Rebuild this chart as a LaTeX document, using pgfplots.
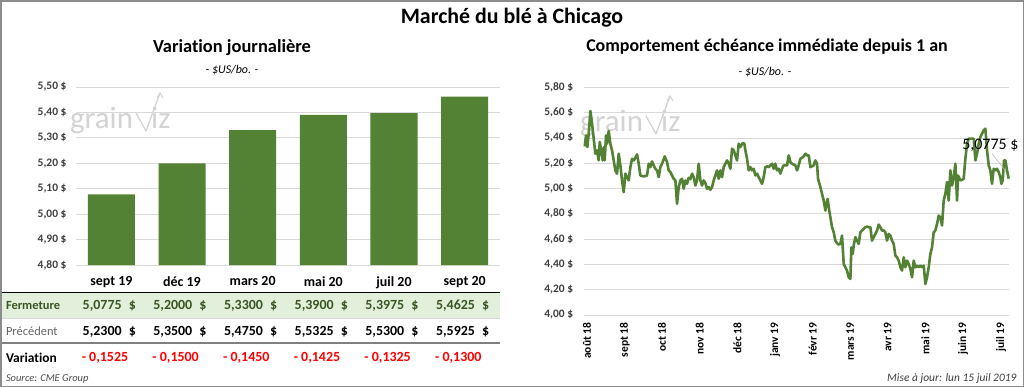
\documentclass[border=0pt]{standalone}
\usepackage{fontspec}
\setmainfont{Carlito}[Ligatures={NoCommon}]
\usepackage{pgfplots}
\pgfplotsset{compat=1.18}
\definecolor{wgreen}{HTML}{548235}
\definecolor{gridc}{HTML}{D9D9D9}
\definecolor{band}{HTML}{E2EFDA}
\definecolor{dkgreen}{HTML}{375623}
\definecolor{wm}{HTML}{D3D3D3}
\definecolor{lbl}{HTML}{404040}
\newcommand{\fs}[1]{\fontsize{#1}{#1}\selectfont}
\newcommand{\watermark}[2]{%
  \begin{scope}[shift={(#1bp,#2bp)}]
    \node[text=wm, font=\fs{31}, anchor=base west, inner sep=0] at (0bp,-128bp) {grain};
    \draw[wm, line width=1.3bp, line join=round] (66bp,-113bp) -- (76bp,-131bp) -- (90bp,-93bp);
    \draw[wm, line width=1bp] (87bp,-98bp) -- (90bp,-93bp) -- (93bp,-98bp);
    \node[text=wm, font=\fs{31}, anchor=base west, inner sep=0] at (81bp,-128bp) {iz};
  \end{scope}}

\begin{document}
\begin{tikzpicture}
\path[use as bounding box] (0,0) rectangle (1024bp,-387bp);
\fill[white] (0,0) rectangle (1024bp,-387bp);

% titles
\node[font=\fs{22}\bfseries] at (512bp,-18bp) {Marché du blé à Chicago};
\node[font=\fs{18.5}\bfseries] at (232bp,-48bp) {Variation journalière};
\node[font=\fs{12}\itshape] at (232bp,-70bp) {- \$US/bo. -};
\node[font=\fs{18}\bfseries] at (767bp,-47bp) {Comportement échéance immédiate depuis 1 an};
\node[font=\fs{12}\itshape] at (765bp,-72bp) {- \$US/bo. -};

% table background and rules
\fill[band] (1.5bp,-292.7bp) rectangle (500bp,-318.3bp);
\draw[black, line width=1.6bp] (1.5bp,-292.3bp) -- (500bp,-292.3bp);
\draw[gridc, line width=0.8bp] (1.5bp,-318.3bp) -- (500bp,-318.3bp);
\draw[black!50, line width=2.2bp] (1.5bp,-342.7bp) -- (500bp,-342.7bp);

\watermark{70}{0}
\watermark{580}{-3}

% left chart
\begin{axis}[
  at={(76bp,-265bp)}, anchor=south west,
  scale only axis, width=424bp, height=178bp,
  xmin=-0.5, xmax=5.5, ymin=4.8, ymax=5.5,
  xtick={0,1,2,3,4,5},
  xticklabels={sept 19, déc 19, mars 20, mai 20, juil 20, sept 20},
  ytick={4.8,4.9,5.0,5.1,5.2,5.3,5.4,5.5},
  yticklabels={{4,80 \$},{4,90 \$},{5,00 \$},{5,10 \$},{5,20 \$},{5,30 \$},{5,40 \$},{5,50 \$}},
  ymajorgrids, grid style={gridc, line width=0.8bp},
  axis line style={draw=none}, major tick length=0pt,
  yticklabel style={font=\fs{11.5}\bfseries, text=lbl, xshift=-6bp},
  xticklabel style={font=\fs{14}\bfseries, text=black, yshift=-8bp},
]
\addplot[ybar, bar width=47bp, fill=wgreen, draw=none]
  coordinates {(0,5.0775) (1,5.2000) (2,5.3300) (3,5.3900) (4,5.3975) (5,5.4625)};
\end{axis}

% table text
\node[anchor=west, font=\fs{12.5}\bfseries, text=dkgreen] at (2.5bp,-306bp) {Fermeture};
\node[anchor=west, font=\fs{12.5}, text=black!60] at (2.5bp,-331.5bp) {Précédent};
\node[anchor=west, font=\fs{13.5}\bfseries] at (2.5bp,-357.5bp) {Variation};
\foreach \c/\f/\p/\v in {111.33/{5,0775}/{5,2300}/{- 0,1525},
                         182.00/{5,2000}/{5,3500}/{- 0,1500},
                         252.67/{5,3300}/{5,4750}/{- 0,1450},
                         323.33/{5,3900}/{5,5325}/{- 0,1425},
                         394.00/{5,3975}/{5,5300}/{- 0,1325},
                         464.67/{5,4625}/{5,5925}/{- 0,1300}} {
  \node[anchor=east, font=\fs{14}\bfseries, text=dkgreen, inner sep=0] at ([xshift=10.5bp]\c bp,-306bp) {\f};
  \node[anchor=east, font=\fs{14}\bfseries, text=dkgreen, inner sep=0] at ([xshift=24.7bp]\c bp,-306bp) {\$};
  \node[anchor=east, font=\fs{14}\bfseries, inner sep=0] at ([xshift=10.5bp]\c bp,-331.5bp) {\p};
  \node[anchor=east, font=\fs{14}\bfseries, inner sep=0] at ([xshift=24.7bp]\c bp,-331.5bp) {\$};
  \node[anchor=east, font=\fs{14}\bfseries, text=red, inner sep=0] at ([xshift=17bp]\c bp,-357.5bp) {\v};
}

% right chart
\begin{axis}[
  at={(583.7bp,-315bp)}, anchor=south west,
  scale only axis, width=425bp, height=227.7bp,
  xmin=215, xmax=1490, ymin=4.0, ymax=5.8,
  xtick={225,338,450,563,676,789,902,1014,1127,1240,1353,1467},
  xticklabels={août 18, sept 18, oct 18, nov 18, déc 18, janv 19, févr 19, mars 19, avr 19, mai 19, juin 19, juil 19},
  ytick={4.0,4.2,4.4,4.6,4.8,5.0,5.2,5.4,5.6,5.8},
  yticklabels={{4,00 \$},{4,20 \$},{4,40 \$},{4,60 \$},{4,80 \$},{5,00 \$},{5,20 \$},{5,40 \$},{5,60 \$},{5,80 \$}},
  ymajorgrids, grid style={gridc, line width=0.8bp},
  axis line style={draw=none}, major tick length=0pt,
  yticklabel style={font=\fs{11.5}\bfseries, text=lbl, xshift=-7bp},
  xticklabel style={font=\fs{11.5}\bfseries, text=black, rotate=90, anchor=east, xshift=-4bp},
  clip=false,
]
\addplot[wgreen, line width=2.6bp, line join=round] table {
x y
218 5.333
222 5.420
226 5.328
230 5.434
235 5.613
240 5.513
245 5.394
250 5.275
255 5.302
260 5.222
263 5.368
268 5.302
272 5.222
276 5.328
278 5.222
282 5.420
285 5.354
290 5.455
295 5.354
300 5.302
305 5.222
310 5.143
315 5.117
320 5.275
325 5.183
330 5.064
335 4.971
340 5.117
345 5.090
350 5.064
355 5.169
360 5.235
365 5.222
370 5.243
375 5.270
380 5.196
385 5.103
395 5.095
405 5.103
410 5.196
415 5.169
420 5.214
425 5.183
430 5.156
435 5.143
440 5.090
445 5.169
452 5.209
458 5.254
465 5.209
470 5.143
475 5.130
480 5.103
485 5.077
490 5.064
495 4.879
500 5.011
505 5.064
510 5.077
515 4.998
520 5.064
525 5.037
530 5.085
535 5.074
540 5.117
545 5.090
550 5.024
555 5.064
560 5.196
565 5.064
570 5.024
575 5.064
580 5.043
585 4.998
590 5.011
595 4.990
600 5.011
605 5.064
610 5.103
615 5.143
620 5.077
625 5.143
630 5.090
635 5.169
640 5.196
645 5.222
650 5.196
655 5.156
660 5.315
665 5.302
670 5.262
675 5.222
680 5.354
685 5.328
692 5.360
697 5.354
700 5.302
705 5.235
710 5.143
715 5.169
720 5.143
725 5.156
730 5.103
735 5.117
740 5.090
745 5.064
750 5.037
755 5.090
760 5.169
765 5.175
770 5.169
775 5.183
780 5.196
785 5.156
790 5.196
795 5.143
800 5.156
805 5.117
810 5.156
815 5.183
825 5.183
830 5.262
835 5.209
840 5.196
850 5.183
855 5.143
860 5.183
865 5.235
870 5.243
875 5.254
880 5.275
885 5.262
890 5.262
895 5.169
905 5.183
910 5.222
915 5.196
918 5.077
925 5.011
930 4.958
935 4.905
940 4.826
943 4.879
947 4.918
950 4.852
955 4.773
960 4.694
965 4.654
970 4.588
975 4.567
980 4.557
985 4.562
990 4.628
995 4.403
1000 4.377
1005 4.351
1010 4.298
1015 4.285
1018 4.535
1022 4.483
1025 4.549
1030 4.615
1035 4.588
1040 4.562
1045 4.654
1050 4.668
1055 4.681
1060 4.694
1065 4.699
1070 4.694
1075 4.694
1080 4.588
1085 4.615
1090 4.641
1095 4.668
1100 4.715
1105 4.694
1110 4.668
1115 4.668
1120 4.654
1125 4.588
1130 4.641
1135 4.628
1140 4.588
1145 4.562
1150 4.469
1155 4.456
1160 4.430
1165 4.377
1170 4.351
1175 4.456
1180 4.377
1185 4.430
1190 4.403
1195 4.364
1200 4.298
1205 4.430
1210 4.377
1215 4.390
1220 4.377
1225 4.390
1230 4.377
1235 4.390
1240 4.245
1245 4.298
1250 4.377
1255 4.483
1260 4.535
1265 4.654
1270 4.668
1275 4.720
1280 4.786
1285 4.773
1290 4.707
1295 4.905
1300 4.958
1305 5.051
1310 4.905
1315 5.143
1320 5.024
1325 5.090
1330 5.196
1335 4.905
1338 5.103
1345 5.064
1350 5.069
1355 5.077
1360 5.235
1365 5.354
1370 5.394
1378 5.394
1385 5.394
1390 5.222
1395 5.275
1400 5.354
1405 5.407
1410 5.434
1415 5.460
1420 5.473
1425 5.302
1430 5.183
1435 5.143
1440 5.037
1445 5.156
1450 5.143
1455 5.156
1460 5.130
1465 5.090
1468 5.037
1472 5.064
1476 5.222
1480 5.222
1485 5.143
1490 5.0775
};
\draw[black!30, line width=0.5bp] (axis cs:1440,5.275) -- (axis cs:1482,5.135);
\node[font=\fs{16}, inner sep=1bp] at (axis cs:1435,5.341) {5,0775 \$};
\end{axis}

% footers
\node[anchor=west, font=\fs{10.5}\itshape, text=black!70] at (2.5bp,-379bp) {Source: CME Group};
\node[anchor=east, font=\fs{11.5}\itshape, text=black!75] at (1020bp,-378bp) {Mise à jour: lun 15 juil 2019};

% outer frame
\draw[black!45, line width=1.5bp] (0.75bp,-0.75bp) rectangle (1023.25bp,-386.25bp);
\end{tikzpicture}
\end{document}
